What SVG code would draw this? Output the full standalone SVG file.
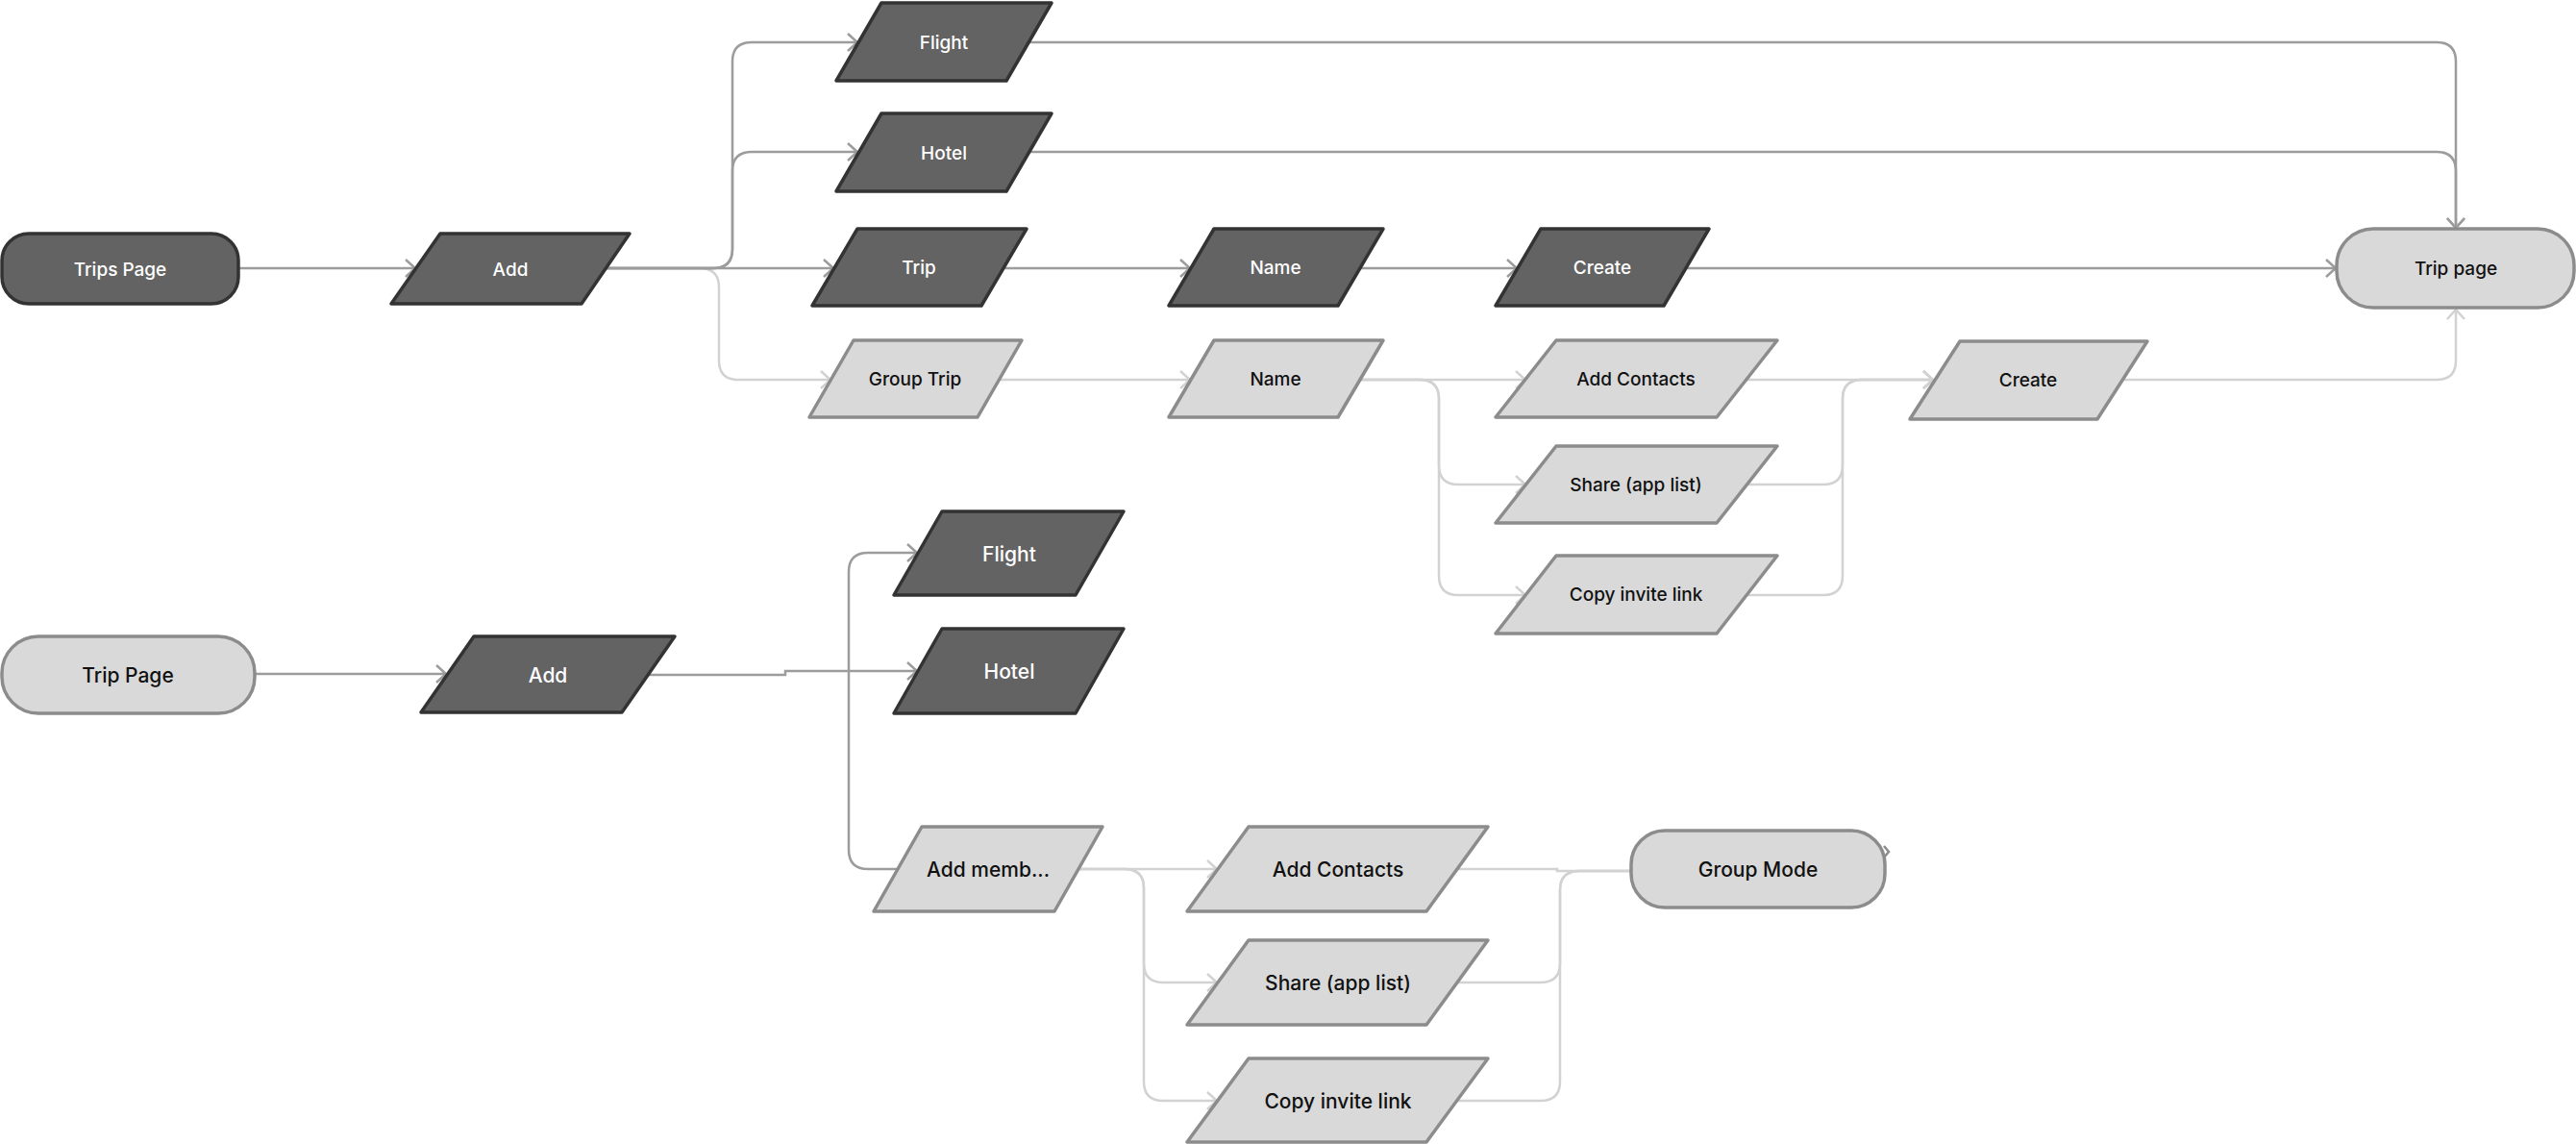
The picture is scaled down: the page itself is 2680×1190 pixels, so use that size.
<svg xmlns="http://www.w3.org/2000/svg" width="2680" height="1190" viewBox="0 0 2680 1190">
<style>
.dk{fill:#636363;stroke:#333333;stroke-width:3.5;stroke-linejoin:round}
.lt{fill:#d9d9d9;stroke:#8c8c8c;stroke-width:3.5;stroke-linejoin:round}
.tw{fill:#ffffff;font-family:Inter,"Liberation Sans",sans-serif;font-size:19px;font-weight:500;text-anchor:middle;dominant-baseline:central}
.tb{fill:#111111;font-family:Inter,"Liberation Sans",sans-serif;font-size:19px;font-weight:500;text-anchor:middle;dominant-baseline:central}
.big{font-size:21px}
.cd{fill:none;stroke:#9c9c9c;stroke-width:2.5}
.cl{fill:none;stroke:#d2d2d2;stroke-width:2.5}
</style>
<defs>
<marker id="ad" viewBox="0 0 12 20" refX="11" refY="10" markerWidth="12" markerHeight="20" markerUnits="userSpaceOnUse" orient="auto"><path d="M1,1 L11,10 L1,19" fill="none" stroke="#9c9c9c" stroke-width="2.5"/></marker>
<marker id="al" viewBox="0 0 12 20" refX="11" refY="10" markerWidth="12" markerHeight="20" markerUnits="userSpaceOnUse" orient="auto"><path d="M1,1 L11,10 L1,19" fill="none" stroke="#d2d2d2" stroke-width="2.5"/></marker>
</defs>
<g id="connectors">
<path class="cd" d="M248,279 H432" marker-end="url(#ad)"/>
<path class="cl" d="M630,279 H728 Q748,279 748,299 V375 Q748,395 768,395 H864" marker-end="url(#al)"/>
<path class="cd" d="M630,279 H742 Q762,279 762,259 V64 Q762,44 782,44 H892" marker-end="url(#ad)"/>
<path class="cd" d="M630,279 H742 Q762,279 762,259 V178 Q762,158 782,158 H892" marker-end="url(#ad)"/>
<path class="cd" d="M630,279 H867" marker-end="url(#ad)"/>
<path class="cd" d="M1070,44 H2535 Q2555,44 2555,64 V237" marker-end="url(#ad)"/>
<path class="cd" d="M1070,158 H2535 Q2555,158 2555,178 V237" marker-end="url(#ad)"/>
<path class="cd" d="M1045,279 H1238" marker-end="url(#ad)"/>
<path class="cd" d="M1416,279 H1578" marker-end="url(#ad)"/>
<path class="cd" d="M1755,279 H2430" marker-end="url(#ad)"/>
<path class="cl" d="M1040,395 H1238" marker-end="url(#al)"/>
<path class="cl" d="M1416,395 H1587" marker-end="url(#al)"/>
<path class="cl" d="M1416,395 H1477 Q1497,395 1497,415 V484 Q1497,504 1517,504 H1587" marker-end="url(#al)"/>
<path class="cl" d="M1416,395 H1477 Q1497,395 1497,415 V599 Q1497,619 1517,619 H1587" marker-end="url(#al)"/>
<path class="cl" d="M1817,395 H2011" marker-end="url(#al)"/>
<path class="cl" d="M1817,504 H1897 Q1917,504 1917,484 V415 Q1917,395 1937,395 H2011" marker-end="url(#al)"/>
<path class="cl" d="M1817,619 H1897 Q1917,619 1917,599 V415 Q1917,395 1937,395 H2011" marker-end="url(#al)"/>
<path class="cl" d="M2208,395 H2535 Q2555,395 2555,375 V322" marker-end="url(#al)"/>
<path class="cd" d="M265,701 H464" marker-end="url(#ad)"/>
<path class="cd" d="M675,702 H817 V698 H954" marker-end="url(#ad)"/>
<path class="cd" d="M934,904 H903 Q883,904 883,884 V595 Q883,575 903,575 H954" marker-end="url(#ad)"/>
<path class="cl" d="M1122,904 H1266" marker-end="url(#al)"/>
<path class="cl" d="M1122,904 H1170 Q1190,904 1190,924 V1002 Q1190,1022 1210,1022 H1266" marker-end="url(#al)"/>
<path class="cl" d="M1122,904 H1170 Q1190,904 1190,924 V1125 Q1190,1145 1210,1145 H1266" marker-end="url(#al)"/>
<path class="cl" d="M1516,904 H1620 V906 H1697"/>
<path class="cl" d="M1516,1022 H1603 Q1623,1022 1623,1002 V926 Q1623,906 1643,906 H1697"/>
<path class="cl" d="M1516,1145 H1603 Q1623,1145 1623,1125 V926 Q1623,906 1643,906 H1697"/>
<path d="M1960,880 L1965,886 L1960,892" fill="none" stroke="#8c8c8c" stroke-width="2.5"/>
</g>
<g id="n-trips-page"><rect class="dk" x="2" y="243" width="246" height="73" rx="28"/><text class="tw" x="125" y="280">Trips Page</text></g>
<g id="n-add1"><polygon class="dk" points="458,243 655,243 605,316 407,316"/><text class="tw" x="531" y="280">Add</text></g>
<g id="n-flight1"><polygon class="dk" points="917,3 1094,3 1047,84 870,84"/><text class="tw" x="982" y="44">Flight</text></g>
<g id="n-hotel1"><polygon class="dk" points="917,118 1094,118 1047,199 870,199"/><text class="tw" x="982" y="159">Hotel</text></g>
<g id="n-trip"><polygon class="dk" points="892,238 1068,238 1021,318 845,318"/><text class="tw" x="956" y="278">Trip</text></g>
<g id="n-name-dk"><polygon class="dk" points="1263,238 1439,238 1392,318 1216,318"/><text class="tw" x="1327" y="278">Name</text></g>
<g id="n-create-dk"><polygon class="dk" points="1603,238 1778,238 1731,318 1556,318"/><text class="tw" x="1667" y="278">Create</text></g>
<g id="n-trip-page-r"><rect class="lt" x="2431" y="238" width="247" height="82" rx="38"/><text class="tb" x="2555" y="279">Trip page</text></g>
<g id="n-group-trip"><polygon class="lt" points="888,354 1063,354 1017,434 842,434"/><text class="tb" x="952" y="394">Group Trip</text></g>
<g id="n-name-lt"><polygon class="lt" points="1263,354 1439,354 1392,434 1216,434"/><text class="tb" x="1327" y="394">Name</text></g>
<g id="n-add-contacts1"><polygon class="lt" points="1619,354 1849,354 1786,434 1556,434"/><text class="tb" x="1702" y="394">Add Contacts</text></g>
<g id="n-create-lt"><polygon class="lt" points="2039,355 2234,355 2182,436 1987,436"/><text class="tb" x="2110" y="395">Create</text></g>
<g id="n-share1"><polygon class="lt" points="1619,464 1849,464 1786,544 1556,544"/><text class="tb" x="1702" y="504">Share (app list)</text></g>
<g id="n-copy1"><polygon class="lt" points="1619,578 1849,578 1786,659 1556,659"/><text class="tb" x="1702" y="618">Copy invite link</text></g>
<g id="n-trip-page2"><rect class="lt" x="2" y="662" width="263" height="80" rx="38"/><text class="tb big" x="133" y="702">Trip Page</text></g>
<g id="n-add2"><polygon class="dk" points="493,662 702,662 647,741 438,741"/><text class="tw big" x="570" y="702">Add</text></g>
<g id="n-flight2"><polygon class="dk" points="980,532 1169,532 1119,619 930,619"/><text class="tw big" x="1050" y="576">Flight</text></g>
<g id="n-hotel2"><polygon class="dk" points="980,654 1169,654 1119,742 930,742"/><text class="tw big" x="1050" y="698">Hotel</text></g>
<g id="n-add-memb"><polygon class="lt" points="959,860 1147,860 1097,948 909,948"/><text class="tb big" x="1028" y="904">Add memb...</text></g>
<g id="n-add-contacts2"><polygon class="lt" points="1299,860 1548,860 1484,948 1235,948"/><text class="tb big" x="1392" y="904">Add Contacts</text></g>
<g id="n-share2"><polygon class="lt" points="1299,978 1548,978 1484,1066 1235,1066"/><text class="tb big" x="1392" y="1022">Share (app list)</text></g>
<g id="n-copy2"><polygon class="lt" points="1299,1101 1548,1101 1484,1188 1235,1188"/><text class="tb big" x="1392" y="1145">Copy invite link</text></g>
<g id="n-group-mode"><rect class="lt" x="1697" y="864" width="264" height="80" rx="35"/><text class="tb big" x="1829" y="904">Group Mode</text></g>
</svg>
